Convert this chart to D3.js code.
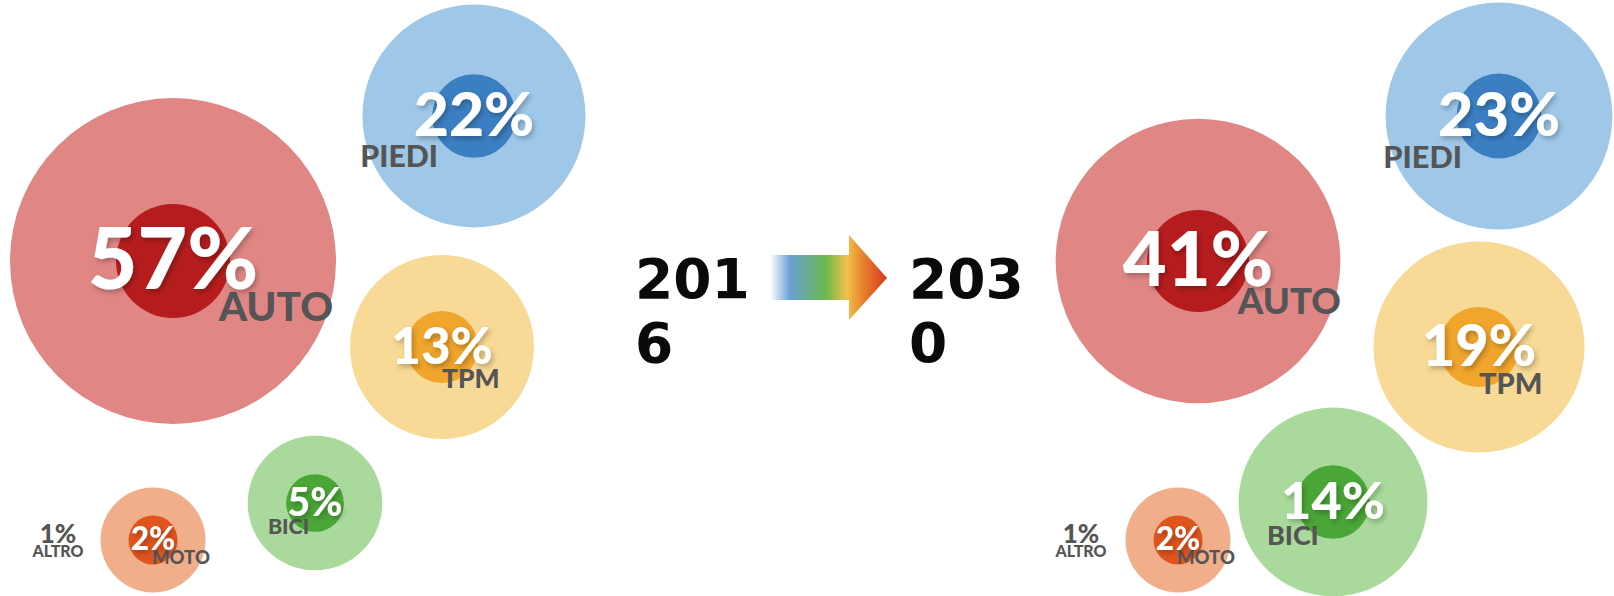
<!DOCTYPE html>
<html>
<head>
<meta charset="utf-8">
<script src="https://cdn.jsdelivr.net/npm/d3@7"></script>
<style>
  body { margin: 0; background: #fff; }
  svg { display: block; }
</style>
</head>
<body>
<div id="chart"></div>
<script>
// modal split data, 2016 vs 2030
var categories = ['AUTO', 'PIEDI', 'TPM', 'BICI', 'MOTO', 'ALTRO'];
var years = ['2016', '2030'];
var share2016 = [57, 22, 13, 5, 2, 1];
var share2030 = [41, 23, 19, 14, 2, 1];

var svgWidth = 1614;
var svgHeight = 596;

// bubble layout (centres of each category, per panel)
var layout = [
    { AUTO: [173, 261], PIEDI: [474, 116], TPM: [442, 347], BICI: [315, 503], MOTO: [153, 540], ALTRO: [58, 543] },
    { AUTO: [1198, 261], PIEDI: [1499, 116], TPM: [1479, 347], BICI: [1333, 502], MOTO: [1178, 540], ALTRO: [1081, 543] }
];

// where the category name sits, as a fraction of the outer radius
var labelPos = {
    AUTO: [0.28, 0.37],
    PIEDI: [-1.02, 0.46],
    TPM: [0.0, 0.45],
    BICI: [-0.70, 0.46],
    MOTO: [-0.02, 0.46]
};

var colors = {
    AUTO: ['#e08785', '#b51c1d'],
    PIEDI: ['#9fc8e8', '#3b7fc3'],
    TPM: ['#f8d995', '#f0a52c'],
    BICI: ['#a9da9c', '#4aa636'],
    MOTO: ['#f1ae8b', '#e0541e']
};

var outerR = d3.scaleSqrt().domain([0, 57]).range([27, 163]);
var innerR = d3.scaleSqrt().domain([0, 57]).range([17, 57]);

var svg = d3.select('#chart')
    .append('svg')
    .attr('width', svgWidth)
    .attr('height', svgHeight);

var defs = svg.append('defs');

var shadow = defs.append('filter')
    .attr('id', 'shadow')
    .attr('x', '-20%').attr('y', '-20%')
    .attr('width', '140%').attr('height', '140%');
shadow.append('feDropShadow')
    .attr('dx', 2).attr('dy', 3)
    .attr('stdDeviation', 2.5)
    .attr('flood-color', '#000')
    .attr('flood-opacity', 0.25);

var grad = defs.append('linearGradient')
    .attr('id', 'arrowGrad')
    .attr('gradientUnits', 'userSpaceOnUse')
    .attr('x1', 770).attr('x2', 887)
    .attr('y1', 0).attr('y2', 0);
[
    [0, '#ffffff'], [0.17, '#6aa0d6'], [0.48, '#6cba4b'],
    [0.66, '#f2c04a'], [0.8, '#e87f2c'], [1, '#d43a1e']
].forEach(function(s) {
    grad.append('stop').attr('offset', s[0]).attr('stop-color', s[1]);
});

function pctSize(d) { return 6 + 0.49 * outerR(d.value); }

function drawPanel(values, p) {
    var g = svg.append('g');
    var rows = categories.map(function(c, i) {
        return { cat: c, value: values[i], pos: layout[p][c] };
    });
    var bubbles = rows.filter(function(d) { return d.cat !== 'ALTRO'; });

    g.selectAll('circle.outer')
        .data(bubbles)
        .enter()
        .append('circle')
        .attr('class', 'outer')
        .attr('cx', d => d.pos[0])
        .attr('cy', d => d.pos[1])
        .attr('r', d => outerR(d.value))
        .attr('fill', d => colors[d.cat][0]);

    g.selectAll('circle.inner')
        .data(bubbles)
        .enter()
        .append('circle')
        .attr('class', 'inner')
        .attr('cx', d => d.pos[0])
        .attr('cy', d => d.pos[1])
        .attr('r', d => innerR(d.value))
        .attr('fill', d => colors[d.cat][1]);

    // category names
    g.selectAll('text.cat')
        .data(bubbles)
        .enter()
        .append('text')
        .attr('class', 'cat')
        .attr('x', d => d.pos[0] + labelPos[d.cat][0] * outerR(d.value))
        .attr('y', d => d.pos[1] + labelPos[d.cat][1] * outerR(d.value))
        .attr('font-family', 'Lato, sans-serif')
        .attr('font-weight', 900)
        .attr('font-size', d => 8 + 0.2 * outerR(d.value))
        .attr('fill', '#555')
        .text(d => d.cat);

    // percentages
    g.selectAll('text.pct')
        .data(bubbles)
        .enter()
        .append('text')
        .attr('class', 'pct')
        .attr('x', d => d.pos[0])
        .attr('y', d => d.pos[1] + 0.33 * pctSize(d))
        .attr('text-anchor', 'middle')
        .attr('font-family', 'Lato, sans-serif')
        .attr('font-weight', 900)
        .attr('font-size', pctSize)
        .attr('fill', '#fff')
        .attr('filter', 'url(#shadow)')
        .text(d => d.value + '%');

    // ALTRO has no bubble
    var altro = rows.filter(function(d) { return d.cat === 'ALTRO'; })[0];
    var t = g.append('text')
        .attr('text-anchor', 'middle')
        .attr('font-family', 'Lato, sans-serif')
        .attr('font-weight', 900)
        .attr('fill', '#555');
    t.append('tspan')
        .attr('x', altro.pos[0]).attr('y', altro.pos[1])
        .attr('font-size', 26)
        .text(altro.value + '%');
    t.append('tspan')
        .attr('x', altro.pos[0]).attr('y', altro.pos[1] + 14)
        .attr('font-size', 16)
        .text(altro.cat);
}

drawPanel(share2016, 0);
drawPanel(share2030, 1);

// year labels (wrapped like the original)
var yearX = [635, 909];
years.forEach(function(y, i) {
    var t = svg.append('text')
        .attr('font-family', 'DejaVu Sans, sans-serif')
        .attr('font-weight', 'bold')
        .attr('font-size', 55)
        .attr('fill', '#0a0a0a');
    t.append('tspan').attr('x', yearX[i]).attr('y', 298).text(y.slice(0, 3));
    t.append('tspan').attr('x', yearX[i]).attr('y', 362).text(y.slice(3));
});

// arrow
svg.append('path')
    .attr('d', 'M770,255 L849,255 L849,235 L887,278 L849,320 L849,300 L770,300 Z')
    .attr('fill', 'url(#arrowGrad)');
</script>
</body>
</html>
